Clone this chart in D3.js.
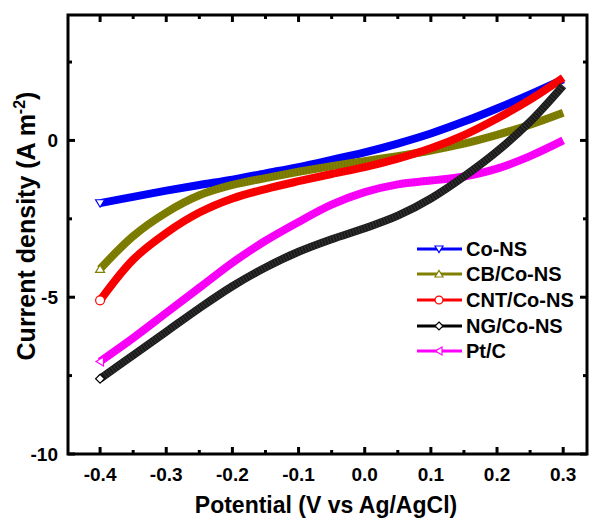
<!DOCTYPE html>
<html>
<head>
<meta charset="utf-8">
<script src="https://cdn.jsdelivr.net/npm/d3@7"></script>
<style>
  body { margin: 0; background: #fff; }
  text { font-family: Arial, "Liberation Sans", sans-serif; font-weight: bold; }
</style>
</head>
<body>
<div id="chart"></div>
<script>
// potentials (V vs Ag/AgCl) used for every series
var potentials = [-0.4, -0.35, -0.3, -0.25, -0.2, -0.15, -0.1, -0.05, 0, 0.05, 0.1, 0.15, 0.2, 0.25, 0.3]

var coNS    = [-2.0, -1.8, -1.6, -1.42, -1.25, -1.05, -0.85, -0.62, -0.38, -0.1, 0.22, 0.6, 1.02, 1.47, 1.95]
var cbCoNS  = [-4.1, -3.05, -2.3, -1.75, -1.42, -1.2, -1.0, -0.82, -0.66, -0.5, -0.32, -0.1, 0.18, 0.5, 0.88]
var cntCoNS = [-5.1, -3.8, -2.95, -2.3, -1.85, -1.55, -1.3, -1.07, -0.85, -0.58, -0.25, 0.17, 0.7, 1.3, 2.0]
var ngCoNS  = [-7.6, -6.85, -6.1, -5.35, -4.65, -4.05, -3.55, -3.15, -2.8, -2.4, -1.85, -1.15, -0.35, 0.6, 1.75]
var ptC     = [-7.05, -6.3, -5.5, -4.7, -3.9, -3.2, -2.6, -2.05, -1.65, -1.4, -1.28, -1.15, -0.9, -0.5, 0.0]

var seriesNames = ["Co-NS", "CB/Co-NS", "CNT/Co-NS", "NG/Co-NS", "Pt/C"]
var seriesValues = [coNS, cbCoNS, cntCoNS, ngCoNS, ptC]
var seriesColors = ["#0000ff", "#808000", "#ff0000", "#1a1a1a", "#ff00ff"]
var seriesSymbols = ["triDown", "triUp", "circle", "diamond", "triLeft"]

var xTicks = [-0.4, -0.3, -0.2, -0.1, 0.0, 0.1, 0.2, 0.3]
var xMinorTicks = [-0.35, -0.25, -0.15, -0.05, 0.05, 0.15, 0.25]
var yTicks = [-10, -5, 0]
var yMinorTicks = [-7.5, -2.5, 2.5]

var W = 589, H = 522
var pLeft = 68, pRight = 587, pTop = 15, pBottom = 454

var svg = d3.select("#chart").append("svg")
    .attr("width", W)
    .attr("height", H)

var x = d3.scaleLinear().domain([-0.4485, 0.336]).range([pLeft, pRight])
var y = d3.scaleLinear().domain([-10, 4]).range([pBottom, pTop])

// symbol shapes, open markers
function markerPath(kind, s){
    if(kind == "triDown") return "M" + (-s) + "," + (-s*0.75) + "L" + s + "," + (-s*0.75) + "L0," + (s*0.9) + "Z"
    if(kind == "triUp") return "M" + (-s) + "," + (s*0.75) + "L" + s + "," + (s*0.75) + "L0," + (-s*0.9) + "Z"
    if(kind == "triLeft") return "M" + (s*0.75) + "," + (-s) + "L" + (s*0.75) + "," + s + "L" + (-s*0.9) + ",0Z"
    if(kind == "diamond") return "M0," + (-s) + "L" + s + ",0L0," + s + "L" + (-s) + ",0Z"
    return d3.symbol().type(d3.symbolCircle).size(s*s*3.1)()
}
function strokeOf(k){
    return seriesColors[k] == "#1a1a1a" ? "#000" : seriesColors[k]
}

var plot = svg.append("g")

var line = d3.line()
    .x((d, i) => x(potentials[i]))
    .y(d => y(d))
    .curve(d3.curveCatmullRom.alpha(0.5))

// draw back to front like the original
var order = [0, 1, 2, 4, 3]
order.forEach(function(k){
    var vals = seriesValues[k]
    plot.append("path")
        .attr("d", line(vals))
        .attr("fill", "none")
        .attr("stroke", seriesColors[k])
        .attr("stroke-width", 8)
    // texture of the dense markers
    plot.append("path")
        .attr("d", line(vals))
        .attr("fill", "none")
        .attr("stroke", k == 3 ? "#666" : "#000")
        .attr("stroke-opacity", k == 3 ? 0.35 : 0.1)
        .attr("stroke-width", 7)
        .attr("stroke-dasharray", "1,2")
    // open marker at the starting potential
    plot.append("path")
        .attr("d", markerPath(seriesSymbols[k], 4.5))
        .attr("transform", "translate(" + x(potentials[0]) + "," + y(vals[0]) + ")")
        .attr("fill", "#fff")
        .attr("stroke", strokeOf(k))
        .attr("stroke-width", 1.2)
})

// frame
svg.append("rect")
    .attr("x", pLeft).attr("y", pTop)
    .attr("width", pRight - pLeft).attr("height", pBottom - pTop)
    .attr("fill", "none")
    .attr("stroke", "#000")
    .attr("stroke-width", 3)

var tickGroup = svg.append("g").attr("stroke", "#000").attr("stroke-width", 3)
xTicks.forEach(function(t){
    tickGroup.append("line").attr("x1", x(t)).attr("x2", x(t)).attr("y1", pBottom).attr("y2", pBottom - 7)
    tickGroup.append("line").attr("x1", x(t)).attr("x2", x(t)).attr("y1", pTop).attr("y2", pTop + 7)
})
xMinorTicks.forEach(function(t){
    tickGroup.append("line").attr("x1", x(t)).attr("x2", x(t)).attr("y1", pBottom).attr("y2", pBottom - 4)
    tickGroup.append("line").attr("x1", x(t)).attr("x2", x(t)).attr("y1", pTop).attr("y2", pTop + 4)
})
yTicks.forEach(function(t){
    tickGroup.append("line").attr("x1", pLeft).attr("x2", pLeft + 7).attr("y1", y(t)).attr("y2", y(t))
    tickGroup.append("line").attr("x1", pRight).attr("x2", pRight - 7).attr("y1", y(t)).attr("y2", y(t))
})
yMinorTicks.forEach(function(t){
    tickGroup.append("line").attr("x1", pLeft).attr("x2", pLeft + 4).attr("y1", y(t)).attr("y2", y(t))
    tickGroup.append("line").attr("x1", pRight).attr("x2", pRight - 4).attr("y1", y(t)).attr("y2", y(t))
})

// tick labels
svg.selectAll(".xlab").data(xTicks).enter().append("text")
    .attr("x", d => x(d))
    .attr("y", 481)
    .attr("text-anchor", "middle")
    .attr("font-size", 19)
    .text(d => d.toFixed(1))

svg.selectAll(".ylab").data(yTicks).enter().append("text")
    .attr("x", 58)
    .attr("y", d => y(d) + 7)
    .attr("text-anchor", "end")
    .attr("font-size", 19)
    .text(d => d)

// axis titles
svg.append("text")
    .attr("x", 326)
    .attr("y", 513)
    .attr("text-anchor", "middle")
    .attr("font-size", 23)
    .text("Potential (V vs Ag/AgCl)")

var yTitle = svg.append("text")
    .attr("transform", "translate(35,226) rotate(-90)")
    .attr("text-anchor", "middle")
    .attr("font-size", 25)
yTitle.append("tspan").text("Current density (A m")
yTitle.append("tspan").attr("font-size", 16).attr("dy", -10).text("-2")
yTitle.append("tspan").attr("dy", 10).text(")")

// legend
var legendY = [249, 274, 300, 326, 351]
seriesNames.forEach(function(name, k){
    var g = svg.append("g").attr("transform", "translate(417," + legendY[k] + ")")
    g.append("line").attr("x1", 0).attr("x2", 45).attr("y1", 0).attr("y2", 0)
        .attr("stroke", strokeOf(k)).attr("stroke-width", 3)
    g.append("path")
        .attr("d", markerPath(seriesSymbols[k], 4))
        .attr("transform", "translate(22,0)")
        .attr("fill", "#fff")
        .attr("stroke", strokeOf(k))
        .attr("stroke-width", 1.2)
    g.append("text").attr("x", 49).attr("y", 7).attr("font-size", 20).text(name)
})
</script>
</body>
</html>
